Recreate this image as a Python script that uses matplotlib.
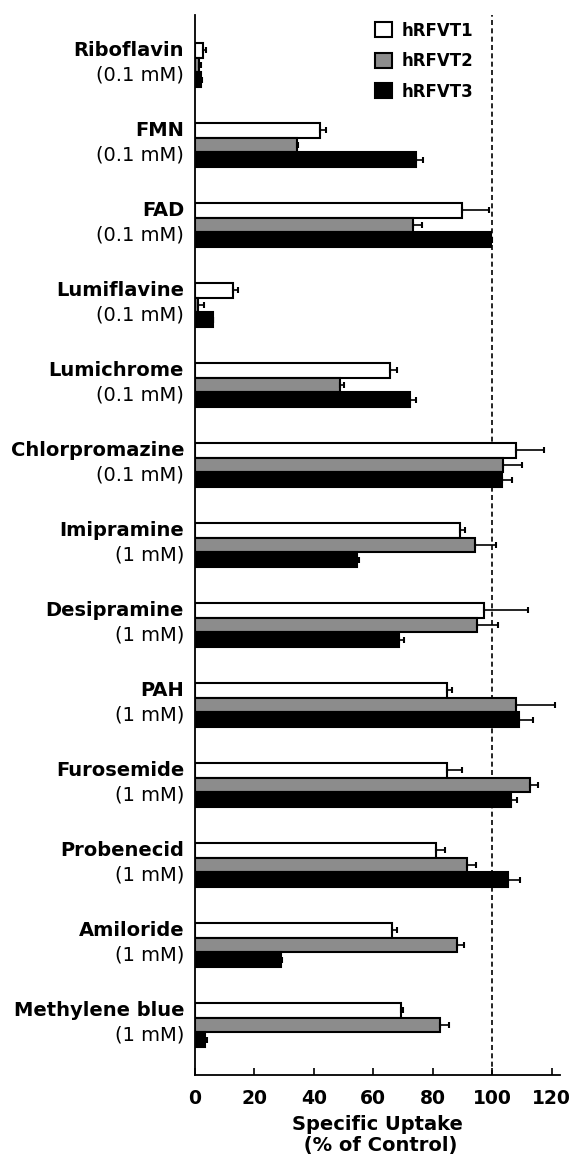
import matplotlib
matplotlib.use('Agg')
import matplotlib.pyplot as plt
from matplotlib.patches import Patch
from matplotlib.transforms import blended_transform_factory
import numpy as np

plt.rcParams['font.family'] = ['DejaVu Sans']

compounds = ['Riboflavin', 'FMN', 'FAD', 'Lumiflavine', 'Lumichrome', 'Chlorpromazine',
             'Imipramine', 'Desipramine', 'PAH', 'Furosemide', 'Probenecid', 'Amiloride',
             'Methylene blue']
concs = ['(0.1 mM)'] * 6 + ['(1 mM)'] * 7

rfvt1 = [2.8, 42.1, 89.8, 12.9, 65.6, 107.9, 89.1, 97.2, 84.9, 84.9, 81.0, 66.4, 69.3]
rfvt1_err = [0.8, 2.0, 9.2, 1.5, 2.2, 9.5, 1.7, 14.7, 1.7, 5.0, 3.1, 1.6, 0.8]
rfvt2 = [1.4, 34.2, 73.5, 1.1, 48.8, 103.5, 94.2, 95.0, 107.9, 112.7, 91.6, 88.0, 82.4]
rfvt2_err = [0.6, 0.6, 3.0, 1.9, 1.4, 6.5, 6.9, 7.0, 13.2, 2.6, 2.9, 2.6, 3.0]
rfvt3 = [2.0, 74.2, 99.6, 5.9, 72.3, 103.2, 54.4, 68.7, 109.1, 106.2, 105.2, 28.8, 3.4]
rfvt3_err = [0.2, 2.4, 0.4, 0.3, 2.1, 3.3, 0.8, 1.5, 4.5, 2.2, 4.1, 0.5, 0.5]

fig = plt.figure(figsize=(5.74, 11.64), dpi=100)
ax = fig.add_axes([0.3397, 0.0765, 0.636, 0.9106])

y = np.arange(len(compounds))
h = 0.185
series = [(rfvt1, rfvt1_err, 'white', 'hRFVT1', -h),
          (rfvt2, rfvt2_err, '#8c8c8c', 'hRFVT2', 0),
          (rfvt3, rfvt3_err, 'black', 'hRFVT3', h)]
for vals, errs, col, lab, off in series:
    ax.barh(y + off, vals, height=h, color=col, edgecolor='black', linewidth=1.5,
            xerr=[np.zeros(len(errs)), errs],
            error_kw=dict(ecolor='black', elinewidth=1.2, capsize=2.5, capthick=1.5),
            zorder=2)

ax.axvline(100, color='black', linestyle='--', linewidth=1.2, dashes=(3, 2), zorder=1)

ax.set_ylim(len(compounds) - 1 + 0.625, -0.625)
ax.set_xlim(0, 122.8)
ax.set_yticks([])
ax.set_xticks([0, 20, 40, 60, 80, 100, 120])
ax.tick_params(axis='x', direction='in', length=5, width=1.2, labelsize=13.5, pad=10)
for t in ax.get_xticklabels():
    t.set_fontweight('bold')
ax.spines['top'].set_visible(False)
ax.spines['right'].set_visible(False)
ax.spines['left'].set_linewidth(1.3)
ax.spines['bottom'].set_linewidth(1.3)
ax.set_xlabel('Specific Uptake\n (% of Control)', fontsize=14, fontweight='bold',
              labelpad=5, linespacing=1.15)

trans = blended_transform_factory(ax.transAxes, ax.transData)
for i, (name, conc) in enumerate(zip(compounds, concs)):
    ax.text(-0.03, i - 0.18, name, transform=trans, ha='right', va='center',
            fontsize=14, fontweight='bold')
    ax.text(-0.03, i + 0.13, conc, transform=trans, ha='right', va='center',
            fontsize=14)

handles = [Patch(facecolor=c, edgecolor='black', linewidth=1.5) for c in ['white', '#8c8c8c', 'black']]
leg = ax.legend(handles, ['hRFVT1', 'hRFVT2', 'hRFVT3'], loc='upper left',
                bbox_to_anchor=(0.452, 1.008), frameon=False, handlelength=1.0,
                handleheight=1.0, labelspacing=0.75, handletextpad=0.6,
                prop={'weight': 'bold', 'size': 12})

fig.savefig('out.png', dpi=100)
